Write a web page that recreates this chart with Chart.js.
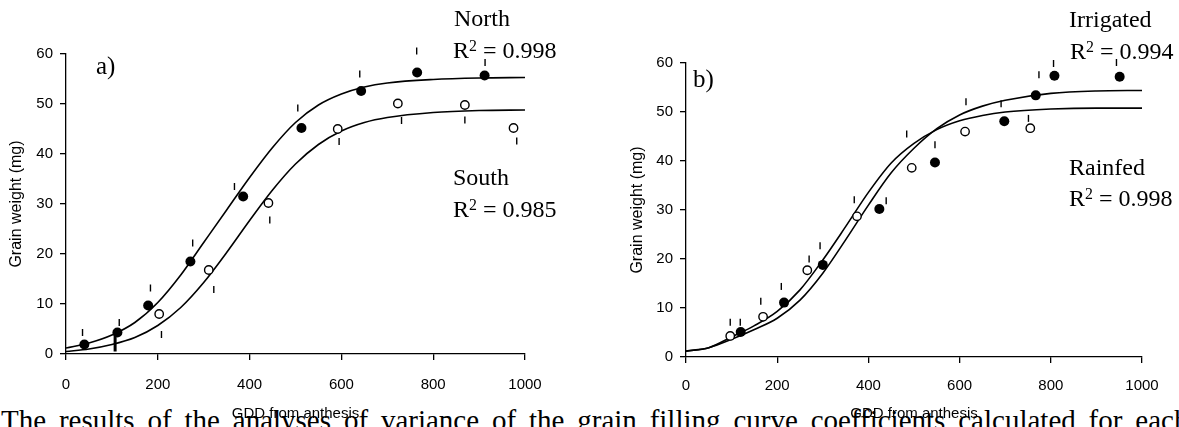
<!DOCTYPE html>
<html>
<head>
<meta charset="utf-8">
<script src="https://cdn.jsdelivr.net/npm/chart.js@4.4.1/dist/chart.umd.min.js"></script>
<style>
  html, body { margin: 0; padding: 0; background: #fff; }
  body { width: 1179px; height: 427px; position: relative; overflow: hidden; }
  canvas { position: absolute; top: 0; }
  #chart-a { left: 0; }
  #chart-b { left: 620px; }
  .note { position: absolute; font: 24px/1 'Liberation Serif', 'Times New Roman', serif; white-space: nowrap; color: #000; }
  .note .sq { position: relative; top: -0.42em; font-size: 0.66em; }
  #para { position: absolute; left: 1px; top: 406px; font: 29px/1 'Liberation Serif', 'Times New Roman', serif; word-spacing: 5.6px; white-space: nowrap; color: #000; }
</style>
</head>
<body>
<div id="para">The results of the analyses of variance of the grain filling curve coefficients calculated for each</div>
<canvas id="chart-a" width="560" height="427"></canvas>
<canvas id="chart-b" width="559" height="427"></canvas>

<div class="note" style="left:96px; top:53px; font-size:25px;">a)</div>
<div class="note" style="left:454px; top:6px;">North</div>
<div class="note" style="left:453px; top:38px;">R<span class="sq">2</span> = 0.998</div>
<div class="note" style="left:453px; top:165px;">South</div>
<div class="note" style="left:453px; top:197px;">R<span class="sq">2</span> = 0.985</div>

<div class="note" style="left:693px; top:66px; font-size:25px;">b)</div>
<div class="note" style="left:1069px; top:7px;">Irrigated</div>
<div class="note" style="left:1070px; top:39px;">R<span class="sq">2</span> = 0.994</div>
<div class="note" style="left:1069px; top:155px;">Rainfed</div>
<div class="note" style="left:1069px; top:186px;">R<span class="sq">2</span> = 0.998</div>

<script>
  // --- panel a: North / South ---
  const northX = [40, 112, 179, 271, 386, 513, 643, 765, 912];
  const northY = [1.9, 4.3, 9.7, 18.5, 31.5, 45.2, 52.6, 56.3, 55.7];
  const northBarX = [36, 116, 184, 276, 367, 505, 640, 764, 913];
  const northBarY = [4.3, 6.3, 13.2, 22.2, 33.5, 49.2, 56.0, 60.6, 58.3];

  const southX = [203, 311, 441, 592, 723, 869, 975];
  const southY = [8.0, 16.8, 30.2, 45.0, 50.1, 49.8, 45.2];
  const southBarX = [208, 322, 444, 595, 731, 869, 982];
  const southBarY = [3.9, 12.9, 26.8, 42.5, 46.7, 46.8, 42.6];

  const thickBarX = [107, 107];
  const thickBarY = [0.5, 4.2];

  // fitted curves
  const curveX = [0, 50, 100, 150, 200, 250, 300, 350, 400, 450, 500, 550, 600, 650, 700, 800, 900, 1000];
  const northFit = [1.2, 2.2, 3.8, 6.3, 10.3, 15.8, 22.3, 28.8, 35.3, 41.3, 46.3, 49.8, 52.0, 53.4, 54.2, 54.9, 55.2, 55.3];
  const southFit = [0.5, 1.0, 1.9, 3.3, 5.7, 9.3, 14.3, 20.3, 26.7, 32.8, 38.0, 41.9, 44.6, 46.3, 47.3, 48.3, 48.7, 48.8];

  // --- panel b: Irrigated / Rainfed ---
  const irrigatedX = [120, 215, 300, 424, 546, 698, 767, 808, 951];
  const irrigatedY = [5.1, 11.1, 18.8, 30.2, 39.7, 48.1, 53.4, 57.4, 57.2];
  const rainfedX = [97, 169, 266, 375, 495, 612, 755];
  const rainfedY = [4.3, 8.2, 17.7, 28.7, 38.6, 46.0, 46.7];
  const bBarX = [97, 119, 164, 209, 270, 294, 369, 439, 484, 546, 614, 691, 751, 774, 806, 944];
  const bBarY = [7.1, 7.1, 11.4, 14.4, 20.0, 22.7, 32.1, 31.9, 45.5, 43.3, 52.1, 51.7, 48.7, 57.6, 59.9, 60.1];

  const rainfedFit = [1.2, 1.9, 4.1, 6.4, 9.3, 13.7, 19.8, 26.6, 33.6, 39.6, 43.6, 46.4, 48.2, 49.3, 50.0, 50.6, 50.8, 50.8];
  const irrigatedFit = [1.2, 1.9, 3.6, 5.6, 7.9, 11.6, 17.1, 23.9, 31.0, 37.6, 42.6, 46.6, 49.4, 51.2, 52.4, 53.8, 54.3, 54.4];

  const yTicks = [0, 10, 20, 30, 40, 50, 60];
  const xTicks = [0, 200, 400, 600, 800, 1000];

  const toPoints = (xs, ys) => xs.map((x, i) => ({ x, y: ys[i] }));
  const sans = "'Liberation Sans', Arial, sans-serif";

  function filled(xs, ys) {
    return { data: toPoints(xs, ys), showLine: false, pointRadius: 5, pointBorderWidth: 0,
      pointBackgroundColor: '#000', order: 0, clip: false };
  }
  function open(xs, ys) {
    return { data: toPoints(xs, ys), showLine: false, pointRadius: 4.2, pointBorderWidth: 1.4,
      pointBorderColor: '#000', pointBackgroundColor: '#fff', order: 0, clip: false };
  }
  function bars(xs, ys) {
    return { data: toPoints(xs, ys), showLine: false, pointStyle: 'line', pointRotation: 90,
      pointRadius: 3.5, pointBorderWidth: 1.4, pointBorderColor: '#000', order: 1, clip: false };
  }
  function fit(ys) {
    return { data: toPoints(curveX, ys), showLine: true, borderColor: '#000', borderWidth: 1.6,
      pointRadius: 0, cubicInterpolationMode: 'monotone', order: 2 };
  }

  function makeChart(id, datasets, opts) {
    return new Chart(document.getElementById(id), {
      type: 'scatter',
      data: { datasets },
      options: {
        responsive: false,
        animation: false,
        events: [],
        layout: { padding: { top: opts.top, right: opts.right, left: 0, bottom: 0 } },
        plugins: { legend: { display: false }, tooltip: { enabled: false } },
        scales: {
          x: {
            type: 'linear', min: 0, max: 1000,
            afterBuildTicks: (s) => { s.ticks = xTicks.map((v) => ({ value: v })); },
            afterFit: (s) => { s.height = opts.xHeight; },
            border: { display: true, color: '#000', width: 1.3 },
            grid: { display: true, drawOnChartArea: false, drawTicks: true, tickLength: 6, color: '#000', lineWidth: 1.3 },
            ticks: { color: '#000', font: { family: sans, size: 15 }, padding: opts.xPad, maxRotation: 0,
              callback: (v) => String(v) },
            title: { display: true, text: 'GDD from anthesis', color: '#000',
              font: { family: sans, size: 15 }, padding: { top: 0, bottom: 4 } }
          },
          y: {
            type: 'linear', min: 0, max: 60,
            afterBuildTicks: (s) => { s.ticks = yTicks.map((v) => ({ value: v })); },
            afterFit: (s) => { s.width = 66; },
            border: { display: true, color: '#000', width: 1.3 },
            grid: { display: true, drawOnChartArea: false, drawTicks: true, tickLength: 6, color: '#000', lineWidth: 1.3 },
            ticks: { color: '#000', font: { family: sans, size: 15 }, padding: 7, callback: (v) => String(v) },
            title: { display: true, text: 'Grain weight (mg)', color: '#000',
              font: { family: sans, size: 16 }, padding: { top: opts.yTitlePad, bottom: 0 } }
          }
        }
      }
    });
  }

  makeChart('chart-a', [
    filled(northX, northY),
    open(southX, southY),
    bars(northBarX, northBarY),
    bars(southBarX, southBarY),
    { data: toPoints(thickBarX, thickBarY), showLine: true, borderColor: '#000', borderWidth: 3, pointRadius: 0, order: 1 },
    fit(northFit),
    fit(southFit)
  ], { top: 54, right: 35, xHeight: 73, xPad: 16.2, yTitlePad: 7.4 });

  makeChart('chart-b', [
    filled(irrigatedX, irrigatedY),
    open(rainfedX, rainfedY),
    bars(bBarX, bBarY),
    fit(irrigatedFit),
    fit(rainfedFit)
  ], { top: 63, right: 37, xHeight: 70, xPad: 14.2, yTitlePad: 7.9 });
</script>
</body>
</html>
